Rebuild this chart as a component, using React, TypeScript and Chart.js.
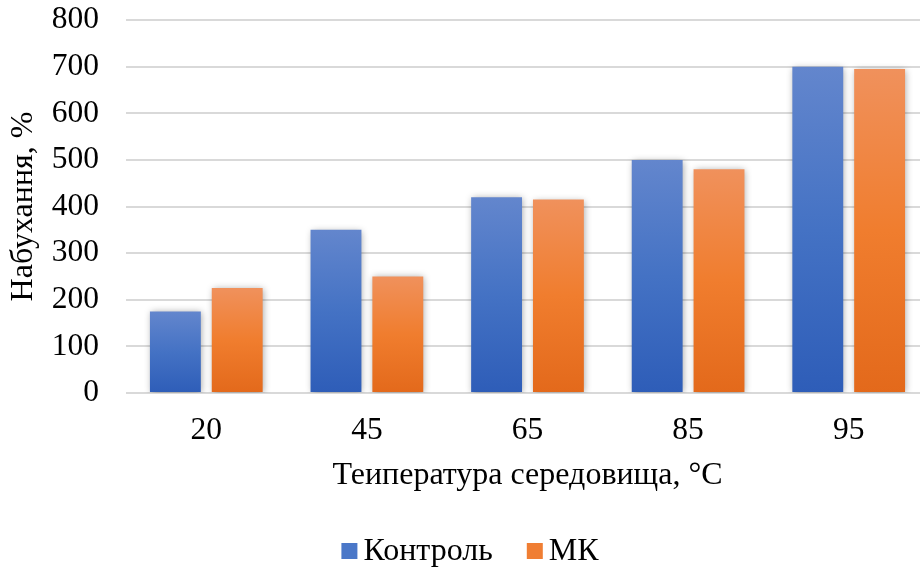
import React, { useEffect, useRef } from "react";
import { Chart, registerables } from "chart.js";

Chart.register(...registerables);

const categories = ["20", "45", "65", "85", "95"];
const kontrolValues = [175, 350, 420, 500, 700];
const mkValues = [225, 250, 415, 480, 695];
const seriesNames = ["Контроль", "МК"];
const yAxisTitle = "Набухання, %";
const xAxisTitle = "Теипература середовища, °С";
const yMin = 0;
const yMax = 800;
const yStep = 100;

const FONT = "'Liberation Serif', 'Times New Roman', serif";

const blueStops = ["#6386cd", "#4472c4", "#2e5db8"];
const orangeStops = ["#f0915c", "#f07d2e", "#e3691b"];
const legendColors = ["#4a77c8", "#f07e33"];

function gradientFill(stops: string[]) {
  return (ctx: any) => {
    const chart = ctx.chart;
    const ys = chart.scales && chart.scales.y;
    if (!chart.chartArea || !ys || ctx.type !== "data") return stops[1];
    const top = ys.getPixelForValue(ctx.raw);
    const bottom = ys.getPixelForValue(0);
    if (!isFinite(top) || !isFinite(bottom) || top === bottom) return stops[1];
    const g = chart.ctx.createLinearGradient(0, top, 0, bottom);
    g.addColorStop(0, stops[0]);
    g.addColorStop(0.5, stops[1]);
    g.addColorStop(1, stops[2]);
    return g;
  };
}

const shadowPlugin = {
  id: "barShadow",
  beforeDatasetsDraw(chart: any) {
    const c = chart.ctx;
    c.save();
    c.shadowColor = "rgba(0,0,0,0.35)";
    c.shadowBlur = 7;
    c.shadowOffsetX = 1;
    c.shadowOffsetY = 1;
  },
  afterDatasetsDraw(chart: any) {
    chart.ctx.restore();
  },
};

const legendPlugin = {
  id: "customLegend",
  afterDraw(chart: any) {
    const c = chart.ctx;
    const box = 16;
    const gapBoxText = 6;
    const gapItems = 34;
    c.save();
    c.font = `32px ${FONT}`;
    c.textBaseline = "middle";
    c.textAlign = "left";
    const items = chart.data.datasets.map((d: any, i: number) => ({
      label: d.label,
      color: legendColors[i],
      w: c.measureText(d.label).width,
    }));
    let total = 0;
    items.forEach((it: any, i: number) => {
      total += box + gapBoxText + it.w + (i < items.length - 1 ? gapItems : 0);
    });
    const centerX = 470;
    const cy = 551;
    let x = centerX - total / 2;
    items.forEach((it: any) => {
      c.fillStyle = it.color;
      c.fillRect(x, cy - box / 2, box, box);
      x += box + gapBoxText;
      c.fillStyle = "#000";
      c.fillText(it.label, x, cy + 1);
      x += it.w + gapItems;
    });
    c.restore();
  },
};

export default function App() {
  const ref = useRef<HTMLCanvasElement | null>(null);

  useEffect(() => {
    if (!ref.current) return;
    const chart = new Chart(ref.current, {
      type: "bar",
      data: {
        labels: categories,
        datasets: [
          {
            label: seriesNames[0],
            data: kontrolValues,
            backgroundColor: gradientFill(blueStops),
            borderWidth: 0,
            categoryPercentage: 0.77,
            barPercentage: 0.823,
          },
          {
            label: seriesNames[1],
            data: mkValues,
            backgroundColor: gradientFill(orangeStops),
            borderWidth: 0,
            categoryPercentage: 0.77,
            barPercentage: 0.823,
          },
        ],
      },
      options: {
        animation: false,
        responsive: false,
        maintainAspectRatio: false,
        layout: { padding: { top: 20, right: 1, bottom: 74, left: 0 } },
        plugins: {
          legend: { display: false },
          tooltip: { enabled: false },
          title: { display: false },
        },
        scales: {
          x: {
            grid: { display: false, drawTicks: false },
            border: { display: false },
            ticks: {
              color: "#000",
              font: { family: FONT, size: 31.5 },
              padding: 19,
              maxRotation: 0,
            },
            title: {
              display: true,
              text: xAxisTitle,
              color: "#000",
              font: { family: FONT, size: 32 },
              padding: { top: 4, bottom: 3 },
            },
            afterFit(scale: any) {
              scale.height = 105;
              scale.paddingLeft = 0;
              scale.paddingRight = 0;
            },
          },
          y: {
            min: yMin,
            max: yMax,
            grid: { color: "#d9d9d9", lineWidth: 2, drawTicks: false },
            border: { display: false },
            ticks: {
              stepSize: yStep,
              color: "#000",
              font: { family: FONT, size: 31.5 },
              padding: 27,
            },
            title: {
              display: true,
              text: yAxisTitle,
              color: "#000",
              font: { family: FONT, size: 32 },
              padding: { top: 4, bottom: 4 },
            },
            afterFit(scale: any) {
              scale.width = 126;
              scale.paddingTop = 0;
              scale.paddingBottom = 0;
            },
          },
        },
      },
      plugins: [shadowPlugin, legendPlugin],
    } as any);
    return () => chart.destroy();
  }, []);

  return (
    <div
      style={{
        position: "fixed",
        left: 0,
        top: 0,
        width: 930,
        height: 572,
        background: "#fff",
      }}
    >
      <canvas ref={ref} width={930} height={572} style={{ width: 930, height: 572 }} />
    </div>
  );
}
